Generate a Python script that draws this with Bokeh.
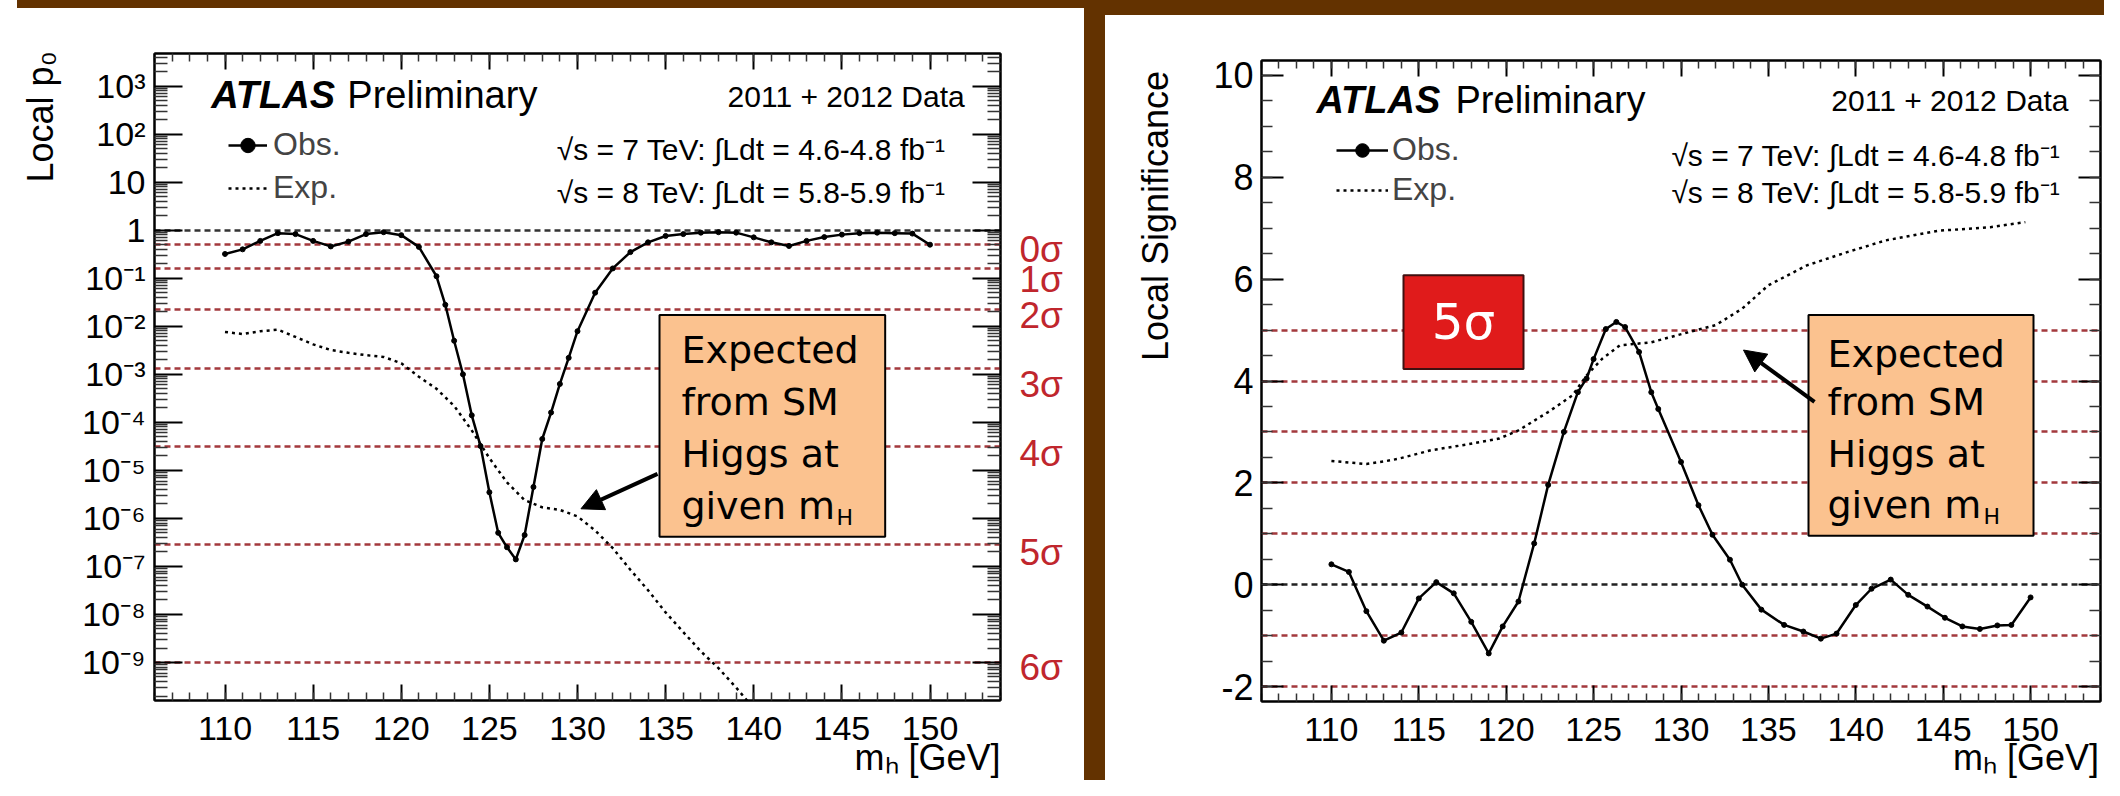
import math
from bokeh.plotting import figure
from bokeh.models import (Range1d, FixedTicker, LinearAxis, LogAxis, Label, Legend,
                          LegendItem, BoxAnnotation, Arrow, NormalHead, Spacer,
                          CustomJSTickFormatter)
from bokeh.layouts import row, column
from bokeh.embed import file_html
from bokeh.resources import INLINE

# ---------------- data ----------------
mass_ticks = [110, 115, 120, 125, 130, 135, 140, 145, 150]

p0_obs_mass = [110, 111, 112, 113, 114, 115, 116, 117, 118, 119, 120, 121, 122, 122.5,
               123, 123.5, 124, 124.5, 125, 125.5, 126, 126.5, 127, 127.5, 128, 128.5,
               129, 129.5, 130, 131, 132, 133, 134, 135, 136, 137, 138, 139, 140, 141,
               142, 143, 144, 145, 146, 147, 148, 149, 150]
p0_obs = [0.32, 0.40, 0.60, 0.87, 0.83, 0.60, 0.46, 0.58, 0.83, 0.91, 0.79, 0.45, 0.11, 0.028,
          5.0e-3, 1.0e-3, 1.4e-4, 3.2e-5, 3.5e-6, 5.0e-7, 2.5e-7, 1.4e-7, 4.5e-7, 4.5e-6, 4.5e-5, 1.6e-4,
          6.3e-4, 2.2e-3, 7.9e-3, 0.050, 0.16, 0.35, 0.56, 0.76, 0.83, 0.89, 0.91, 0.89, 0.71, 0.56,
          0.47, 0.60, 0.72, 0.81, 0.87, 0.89, 0.87, 0.85, 0.50]

p0_exp_mass = [110, 111, 112, 113, 114, 115, 116, 117, 118, 119, 120, 121, 122, 123, 124, 125,
               126, 127, 128, 129, 130, 131, 132, 133, 134, 135, 136, 137, 138, 139, 140]
p0_exp = [7.6e-3, 6.9e-3, 7.9e-3, 8.5e-3, 6.0e-3, 4.2e-3, 3.2e-3, 2.8e-3, 2.5e-3, 2.3e-3, 1.7e-3,
          8.9e-4, 5.0e-4, 2.2e-4, 6.8e-5, 1.8e-5, 5.6e-6, 2.4e-6, 1.7e-6, 1.5e-6, 1.1e-6, 5.6e-7,
          2.4e-7, 8.5e-8, 3.2e-8, 1.1e-8, 4.3e-9, 1.7e-9, 7.6e-10, 3.0e-10, 1.1e-10]

sig_obs_mass = [110.0, 111.0, 112.0, 113.0, 114.0, 115.0, 116.0, 117.0, 118.0, 119.0, 119.8,
                120.7, 121.6, 122.4, 123.3, 124.1, 124.6, 125.0, 125.7, 126.3, 126.8, 127.6,
                128.3, 128.7, 130.0, 131.0, 131.8, 132.8, 133.5, 134.6, 135.9, 137.0, 138.0,
                138.9, 140.0, 140.9, 142.0, 143.0, 144.1, 145.1, 146.1, 147.1, 148.1, 148.9, 150.0]
sig_obs = [0.40, 0.25, -0.52, -1.10, -0.94, -0.27, 0.05, -0.17, -0.73, -1.35, -0.82,
           -0.33, 0.81, 1.96, 3.00, 3.78, 4.05, 4.43, 5.02, 5.16, 5.06, 4.57,
           3.78, 3.45, 2.41, 1.56, 0.98, 0.49, 0.00, -0.49, -0.79, -0.92, -1.06,
           -0.96, -0.40, -0.08, 0.10, -0.20, -0.43, -0.65, -0.82, -0.87, -0.80, -0.79, -0.25]

sig_exp_mass = [110.0, 111.0, 112.0, 113.0, 113.8, 115.7, 117.7, 119.6, 120.7, 122.4, 123.8,
                124.6, 125.5, 126.5, 128.3, 129.8, 132.0, 133.5, 135.0, 137.2, 139.5, 141.7,
                144.7, 147.7, 149.7]
sig_exp = [2.43, 2.40, 2.37, 2.42, 2.47, 2.64, 2.75, 2.87, 3.03, 3.39, 3.72,
           4.11, 4.44, 4.70, 4.76, 4.90, 5.10, 5.42, 5.88, 6.27, 6.53, 6.76,
           6.95, 7.02, 7.12]

sigma_labels = ["0σ", "1σ", "2σ", "3σ", "4σ", "5σ", "6σ"]
sigma_p0 = [0.5, 0.159, 0.0228, 1.35e-3, 3.17e-5, 2.87e-7, 9.9e-10]
p0_decades = list(range(-9, 4))
z_ticks = [-2, 0, 2, 4, 6, 8, 10]
z_sigma_lines = [-2, -1, 1, 2, 3, 4, 5]

# ---------------- styles ----------------
FONT = "Liberation Sans"
BOXFONT = "DejaVu Sans"
BROWN = "#633200"
LINE_RED = "#a3393d"
LABEL_RED = "#c0262d"
PEACH = "#fbc28f"
BOXRED = "#e01b1b"
NB = "\u00a0"


# reference-pixel -> data helpers for annotation placement
def lx(px):
    return 106 + (px - 157) * 48.0 / 851.0


def ly(py):
    return 10 ** ((238 - py) / 48.1)


def rx(px):
    return 106 + (px - 1269) * 48.0 / 839.0


def ry(py):
    return (593 - py) / 51.0


def lab(p, x, y, text, size, color="black", font=FONT, style="normal",
        align="left", baseline="middle", angle=0.0):
    p.add_layout(Label(x=x, y=y, text=text, text_font=font, text_font_size=f"{size}px",
                       text_color=color, text_font_style=style, text_align=align,
                       text_baseline=baseline, angle=angle))


def style_axis(ax, major_in, minor_in, fs="34px", hidden=False):
    ax.major_tick_in = major_in
    ax.major_tick_out = 0
    ax.minor_tick_in = minor_in
    ax.minor_tick_out = 0
    ax.major_tick_line_width = 2
    ax.minor_tick_line_width = 1.5
    ax.major_tick_line_color = "black"
    ax.minor_tick_line_color = "#333333"
    ax.axis_line_width = 2
    ax.axis_line_color = "black"
    ax.major_label_text_font = FONT
    ax.major_label_text_font_size = fs
    ax.major_label_text_color = "black"
    if hidden:
        ax.major_label_text_font_size = "1px"
        ax.major_label_text_alpha = 0.0
        ax.major_label_standoff = 0


def axis_title(ax, text, size, standoff, lead):
    # centred title pushed to the far end of the axis (ROOT style) by leading no-break spaces
    ax.axis_label_text_font = FONT
    ax.axis_label_text_font_size = f"{size}px"
    ax.axis_label_text_font_style = "normal"
    ax.axis_label_text_color = "black"
    ax.axis_label_standoff = standoff
    ax.axis_label = NB * lead + text


def sigma_axis(p, positions, labels):
    ax = LogAxis(ticker=FixedTicker(ticks=sorted(positions), minor_ticks=[]),
                 formatter=CustomJSTickFormatter(args=dict(vals=positions, labs=labels), code="""
let best = 0, bd = 1e99;
for (let i = 0; i < vals.length; i++) {
  const d = Math.abs(Math.log10(tick) - Math.log10(vals[i]));
  if (d < bd) { bd = d; best = i; }
}
return labs[best];
"""))
    ax.major_tick_in = 0
    ax.major_tick_out = 0
    ax.minor_tick_in = 0
    ax.minor_tick_out = 0
    ax.axis_line_color = None
    ax.major_tick_line_color = None
    ax.minor_tick_line_color = None
    ax.major_label_text_font = FONT
    ax.major_label_text_font_size = "37px"
    ax.major_label_text_color = LABEL_RED
    ax.major_label_standoff = 19
    p.add_layout(ax, "right")


sup_js = """
const e = Math.round(Math.log10(tick));
if (e == 0) return "1";
if (e == 1) return "10";
const m = {"-":"\u207b","0":"\u2070","1":"\u00b9","2":"\u00b2","3":"\u00b3","4":"\u2074",
           "5":"\u2075","6":"\u2076","7":"\u2077","8":"\u2078","9":"\u2079"};
return "10" + String(e).split("").map(c => m[c]).join("");
"""

# ======================= LEFT: local p0 =======================
pl = figure(width=1067, height=772, x_range=Range1d(106, 154),
            y_range=Range1d(ly(709), ly(61)), y_axis_type="log",
            output_backend="svg", toolbar_location=None,
            min_border_left=132, min_border_right=84, min_border_top=45,
            min_border_bottom=79, background_fill_color="white",
            border_fill_color="white", outline_line_color="black", outline_line_width=2)
pl.grid.visible = False

xt = FixedTicker(ticks=mass_ticks, minor_ticks=list(range(106, 155)))
ymaj = [10.0 ** e for e in p0_decades]
ymin = [k * 10.0 ** e for e in range(-10, 4) for k in range(2, 10)
        if ly(709) < k * 10.0 ** e < ly(61)]
yt = FixedTicker(ticks=ymaj, minor_ticks=ymin)

pl.xaxis.ticker = xt
pl.yaxis.ticker = yt
pl.yaxis.formatter = CustomJSTickFormatter(code=sup_js)
style_axis(pl.xaxis[0], 16, 8)
style_axis(pl.yaxis[0], 28, 13)
pl.xaxis.major_label_standoff = 16
pl.yaxis.major_label_standoff = 9
axis_title(pl.xaxis[0], "mₕ [GeV]", 36, -6, 70)
axis_title(pl.yaxis[0], "Local p₀", 36, 18, 52)

ax_top = LinearAxis(ticker=xt)
style_axis(ax_top, 16, 8, hidden=True)
pl.add_layout(ax_top, "above")
ax_right = LogAxis(ticker=yt)
style_axis(ax_right, 28, 13, hidden=True)
pl.add_layout(ax_right, "right")
sigma_axis(pl, [ly(py) for py in [257, 287, 323, 393, 462, 561, 676]], sigma_labels)

pl.hspan(y=[1.0], line_color="#333333", line_width=2.5, line_dash="6 4")
pl.hspan(y=sigma_p0, line_color=LINE_RED, line_width=2.5, line_dash="6 4")

exp_l = pl.line(p0_exp_mass, p0_exp, line_color="black", line_width=2.5, line_dash="3 4")
obs_l = pl.line(p0_obs_mass, p0_obs, line_color="black", line_width=2.5)
obs_s = pl.scatter(p0_obs_mass, p0_obs, size=5, color="black")

leg_l = Legend(items=[LegendItem(label="Obs.", renderers=[obs_l, obs_s]),
                      LegendItem(label="Exp.", renderers=[exp_l])],
               location=(74, 494), orientation="vertical", padding=0, margin=0, spacing=6,
               glyph_width=39, glyph_height=36, label_height=36, label_standoff=6,
               label_text_font=FONT, label_text_font_size="32px",
               border_line_alpha=0, background_fill_alpha=0)
pl.add_layout(leg_l)

lab(pl, lx(214), ly(103), "ATLAS", 38, style="bold italic")
lab(pl, lx(351), ly(103), "Preliminary", 38)
lab(pl, lx(972), ly(104), "2011 + 2012 Data", 30, align="right")
lab(pl, lx(961), ly(157), "√s = 7 TeV:  ∫Ldt = 4.6-4.8 fb⁻¹", 30, align="right")
lab(pl, lx(961), ly(200), "√s = 8 TeV:  ∫Ldt = 5.8-5.9 fb⁻¹", 30, align="right")

pl.add_layout(BoxAnnotation(left=lx(665), right=lx(892), top=ly(323), bottom=ly(545),
                            fill_color=PEACH, fill_alpha=1.0, line_color="black",
                            line_width=2, line_alpha=1.0))
for t, py in zip(["Expected", "from SM", "Higgs at", "given m"], [358, 410, 462, 514]):
    lab(pl, lx(687), ly(py), t, 38, font=BOXFONT)
lab(pl, lx(843), ly(526), "H", 22, font=BOXFONT)
pl.add_layout(Arrow(end=NormalHead(size=22, fill_color="black", line_color="black"),
                    x_start=lx(663), y_start=ly(482), x_end=lx(586), y_end=ly(517),
                    line_width=4, line_color="black"))

# ======================= RIGHT: local significance =======================
pr = figure(width=999, height=765, x_range=Range1d(106, 154),
            y_range=Range1d(ry(710), ry(68)),
            output_backend="svg", toolbar_location=None,
            min_border_left=156, min_border_right=4, min_border_top=45,
            min_border_bottom=78, background_fill_color="white",
            border_fill_color="white", outline_line_color="black", outline_line_width=2)
pr.grid.visible = False

zt = FixedTicker(ticks=z_ticks, minor_ticks=[k / 2 for k in range(-4, 21)])
pr.xaxis.ticker = xt
pr.yaxis.ticker = zt
pr.yaxis.formatter = CustomJSTickFormatter(code="return String(Math.round(tick));")
style_axis(pr.xaxis[0], 16, 8)
style_axis(pr.yaxis[0], 22, 11, "36px")
pr.xaxis.major_label_standoff = 16
pr.yaxis.major_label_standoff = 8
axis_title(pr.xaxis[0], "mₕ [GeV]", 36, -7, 69)
axis_title(pr.yaxis[0], "Local Significance", 36, 34, 33)

rax_top = LinearAxis(ticker=xt)
style_axis(rax_top, 16, 8, hidden=True)
pr.add_layout(rax_top, "above")
rax_right = LinearAxis(ticker=zt)
style_axis(rax_right, 22, 11, hidden=True)
pr.add_layout(rax_right, "right")

pr.hspan(y=z_sigma_lines, line_color=LINE_RED, line_width=2.5, line_dash="6 4")
pr.hspan(y=[0], line_color="#222222", line_width=2.5, line_dash="6 4")

rexp_l = pr.line(sig_exp_mass, sig_exp, line_color="black", line_width=2.5, line_dash="3 4")
robs_l = pr.line(sig_obs_mass, sig_obs, line_color="black", line_width=2.5)
robs_s = pr.scatter(sig_obs_mass, sig_obs, size=5, color="black")

leg_r = Legend(items=[LegendItem(label="Obs.", renderers=[robs_l, robs_s]),
                      LegendItem(label="Exp.", renderers=[rexp_l])],
               location=(75, 493), orientation="vertical", padding=0, margin=0, spacing=3,
               glyph_width=52, glyph_height=34, label_height=34, label_standoff=4,
               label_text_font=FONT, label_text_font_size="32px",
               border_line_alpha=0, background_fill_alpha=0)
pr.add_layout(leg_r)

lab(pr, rx(1324), ry(108), "ATLAS", 38, style="bold italic")
lab(pr, rx(1463), ry(108), "Preliminary", 38)
lab(pr, rx(2076), ry(108), "2011 + 2012 Data", 30, align="right")
lab(pr, rx(2076), ry(163), "√s = 7 TeV:  ∫Ldt = 4.6-4.8 fb⁻¹", 30, align="right")
lab(pr, rx(2076), ry(200), "√s = 8 TeV:  ∫Ldt = 5.8-5.9 fb⁻¹", 30, align="right")

pr.add_layout(BoxAnnotation(left=rx(1411), right=rx(1531), top=ry(283), bottom=ry(377),
                            fill_color=BOXRED, fill_alpha=1.0, line_color="#401010",
                            line_width=2, line_alpha=1.0))
lab(pr, rx(1471), ry(330), "5σ", 50, color="white", font=BOXFONT, align="center")

pr.add_layout(BoxAnnotation(left=rx(1816), right=rx(2041), top=ry(323), bottom=ry(544),
                            fill_color=PEACH, fill_alpha=1.0, line_color="black",
                            line_width=2, line_alpha=1.0))
for t, py in zip(["Expected", "from SM", "Higgs at", "given m"], [362, 410, 462, 513]):
    lab(pr, rx(1835), ry(py), t, 38, font=BOXFONT)
lab(pr, rx(1991), ry(525), "H", 22, font=BOXFONT)
pr.add_layout(Arrow(end=NormalHead(size=22, fill_color="black", line_color="black"),
                    x_start=rx(1822), y_start=ry(410), x_end=rx(1751), y_end=ry(358),
                    line_width=4, line_color="black"))

# ======================= page layout =======================
left_col = column(Spacer(width=1067, height=8, styles={"background-color": BROWN}), pl)
right_col = column(Spacer(width=999, height=15, styles={"background-color": BROWN}), pr)
page = row(Spacer(width=17, height=780),
           left_col,
           Spacer(width=21, height=780, styles={"background-color": BROWN}),
           right_col)

open("out.html", "w").write(file_html(page, INLINE))
